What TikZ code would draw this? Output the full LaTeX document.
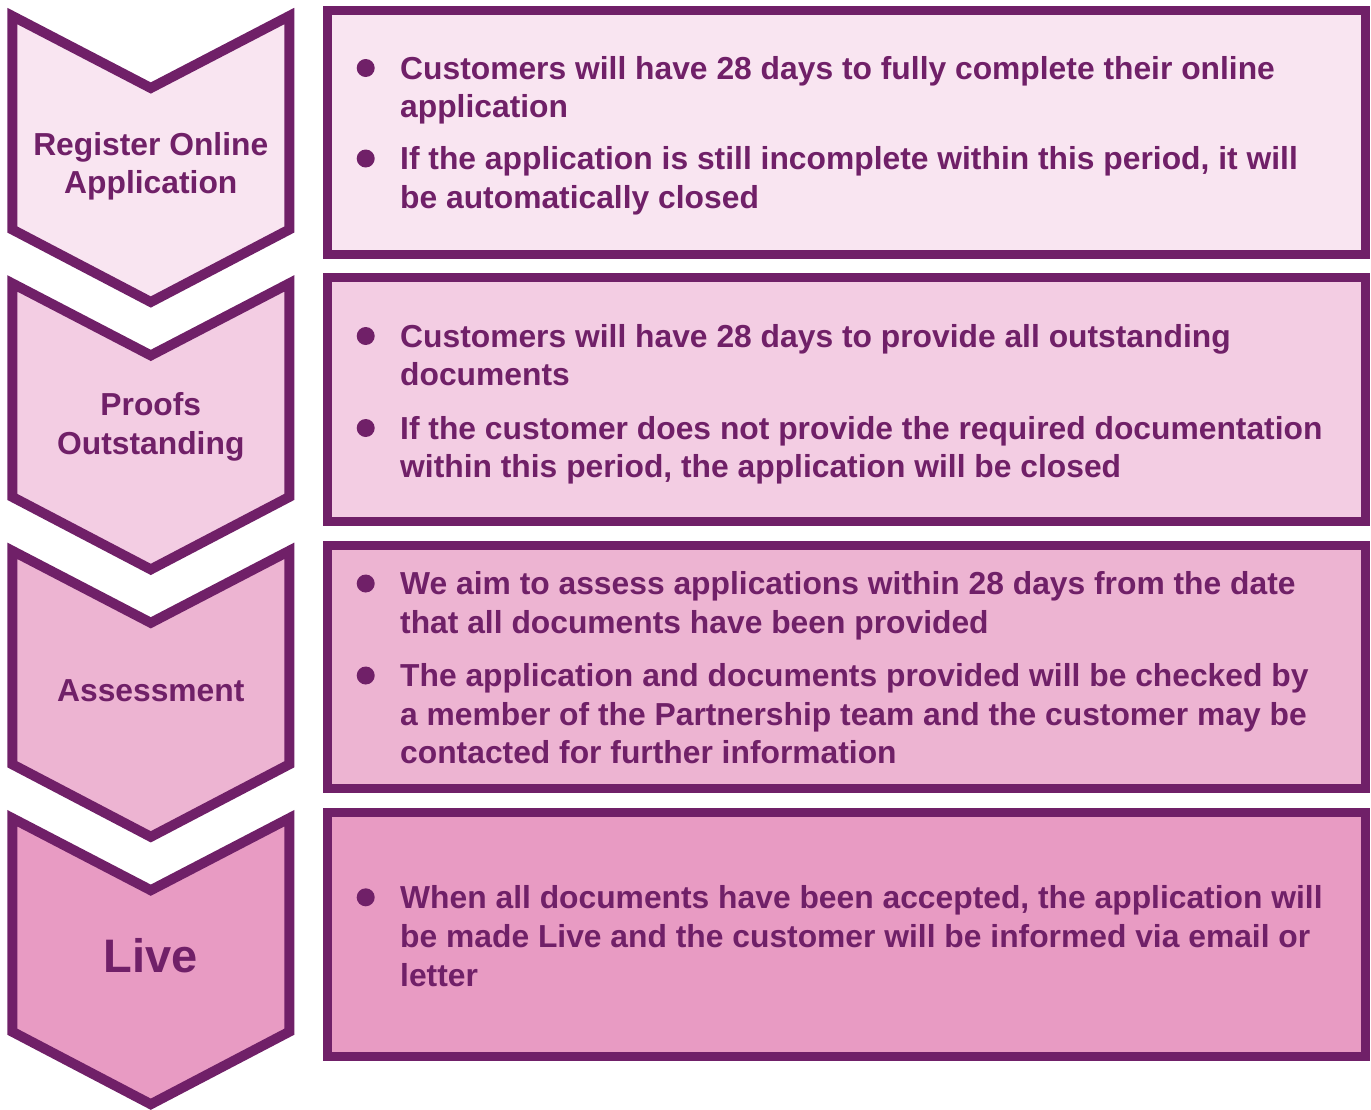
\documentclass[tikz,border=0pt]{standalone}
\usepackage{fontspec}
\setmainfont{Liberation Sans}
\definecolor{pur}{RGB}{112,32,104}
\definecolor{fa}{RGB}{249,229,241}
\definecolor{fb}{RGB}{243,205,227}
\definecolor{fc}{RGB}{237,180,210}
\definecolor{fd}{RGB}{232,155,195}
\begin{document}
\begin{tikzpicture}[x=1pt,y=-1pt,
  chevstyle/.style={draw=pur, line width=10pt, line join=miter},
  boxstyle/.style={draw=pur, line width=9pt, rectangle, inner sep=0pt, minimum width=1038.5pt, minimum height=243.5pt},
  txt/.style={text=pur, font=\fontsize{31.8}{38.5}\selectfont\bfseries, inner sep=0pt, anchor=base west},
  lab/.style={text=pur, font=\fontsize{31.8}{38.5}\selectfont\bfseries, inner sep=0pt, anchor=base},
  dot/.style={circle, fill=pur, inner sep=0pt, minimum size=18pt}]
\useasboundingbox (0,0) rectangle (1371,1109);
% chevrons and boxes
\foreach \i/\c in {0/fa,1/fb,2/fc,3/fd}{
  \pgfmathsetmacro\o{\i*267.4}
  \draw[chevstyle, fill=\c] (12.3,{16+\o}) -- (150.8,{88+\o}) -- (289.3,{16+\o}) -- (289.3,{229.5+\o}) -- (150.8,{302+\o}) -- (12.3,{229.5+\o}) -- cycle;
  \node[boxstyle, fill=\c] (box\i) at (846.25,{132.25+\o}) {};
}
% chevron labels
\node[lab] (l1a) at (150.8,155) {Register Online};
\node[lab] (l1b) at (150.8,193) {Application};
\node[lab] (l2a) at (150.8,415.7) {Proofs};
\node[lab] (l2b) at (150.8,454) {Outstanding};
\node[lab] (l3a) at (150.8,701) {Assessment};
\node[lab, font=\fontsize{47}{50}\selectfont\bfseries] (l4a) at (150.8,972) {Live};
% box 1
\node[dot] (d11) at (365.7,68) {};
\node[txt] (t11) at (400,79) {Customers will have 28 days to fully complete their online};
\node[txt] (t12) at (400,117.5) {application};
\node[dot] (d12) at (365.7,158.5) {};
\node[txt] (t13) at (400,169.5) {If the application is still incomplete within this period, it will};
\node[txt] (t14) at (400,208.5) {be automatically closed};
% box 2
\node[dot] (d21) at (365.7,336) {};
\node[txt] (t21) at (400,347) {Customers will have 28 days to provide all outstanding};
\node[txt] (t22) at (400,385) {documents};
\node[dot] (d22) at (365.7,428) {};
\node[txt] (t23) at (400,439) {If the customer does not provide the required documentation};
\node[txt] (t24) at (400,477) {within this period, the application will be closed};
% box 3
\node[dot] (d31) at (365.7,583.5) {};
\node[txt] (t31) at (400,594.5) {We aim to assess applications within 28 days from the date};
\node[txt] (t32) at (400,633) {that all documents have been provided};
\node[dot] (d32) at (365.7,675.5) {};
\node[txt] (t33) at (400,686.5) {The application and documents provided will be checked by};
\node[txt] (t34) at (400,725) {a member of the Partnership team and the customer may be};
\node[txt] (t35) at (400,763.5) {contacted for further information};
% box 4
\node[dot] (d41) at (365.7,897.3) {};
\node[txt] (t41) at (400,908.3) {When all documents have been accepted, the application will};
\node[txt] (t42) at (400,947.3) {be made Live and the customer will be informed via email or};
\node[txt] (t43) at (400,986) {letter};
\end{tikzpicture}
\end{document}
